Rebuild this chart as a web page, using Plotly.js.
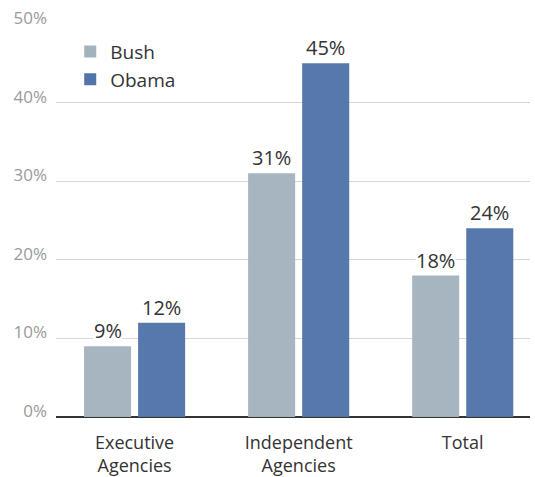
<!DOCTYPE html>
<html>
<head>
<meta charset="utf-8">
<script src="https://cdn.plot.ly/plotly-3.0.1.min.js"></script>
<style>html,body{margin:0;padding:0;background:#fff;}#chart{width:535px;height:477px;}</style>
</head>
<body>
<div id="chart"></div>
<script>
const categories = ["Executive<br>Agencies", "Independent<br>Agencies", "Total"];
const seriesNames = ["Bush", "Obama"];
const bushValues = [9, 31, 18];
const obamaValues = [12, 45, 24];
const yTickValues = [0, 10, 20, 30, 40, 50];
const yTickLabels = ["0%", "10%", "20%", "30%", "40%", "50%"];

const colors = ["#a3b3be", "#5274a9"];
const font = "'Open Sans', Lato, sans-serif";

const traces = [bushValues, obamaValues].map((vals, i) => ({
  type: "bar",
  name: seriesNames[i],
  x: categories,
  y: vals,
  marker: {color: colors[i], opacity: 0.97},
  hoverinfo: "skip"
}));

const annotations = [];
[bushValues, obamaValues].forEach((vals, i) => {
  vals.forEach((v, j) => {
    annotations.push({
      x: categories[j], y: v, xref: "x", yref: "y",
      text: v + "%", showarrow: false,
      yanchor: "bottom", xshift: i === 0 ? -27 : 27, yshift: 1,
      bgcolor: "rgba(255,255,255,1)", borderpad: 0,
      font: {family: font, size: 20, color: "#333"}
    });
  });
});

const layout = {
  width: 535, height: 477,
  margin: {l: 56, r: 5, t: 24, b: 60},
  paper_bgcolor: "#fff", plot_bgcolor: "#fff",
  barmode: "group",
  bargap: 0.341, bargroupgap: 0.13,
  showlegend: true,
  legend: {x: 0.03, y: 0.978, xanchor: "left", yanchor: "top",
    font: {family: font, size: 19, color: "#333"}, bgcolor: "rgba(0,0,0,0)",
    tracegroupgap: 0, itemwidth: 30},
  xaxis: {
    type: "category", range: [-0.479, 2.41],
    showgrid: false, showline: false, ticks: "", zeroline: false,
    ticklabelstandoff: 13,
    tickfont: {family: font, size: 18, color: "#333"}
  },
  yaxis: {
    range: [0, 50], tickvals: yTickValues, ticktext: yTickLabels,
    showgrid: true, gridcolor: "#d6d6d6", gridwidth: 1.2,
    zeroline: true, zerolinecolor: "#333", zerolinewidth: 1.5,
    ticks: "", showline: false, ticklabelstandoff: 8, ticklabelshift: -6,
    tickfont: {family: font, size: 17, color: "#9a9a9a"}
  },
  annotations: annotations,
  font: {family: font}
};

Plotly.newPlot("chart", traces, layout, {displayModeBar: false, staticPlot: true});
</script>
</body>
</html>
